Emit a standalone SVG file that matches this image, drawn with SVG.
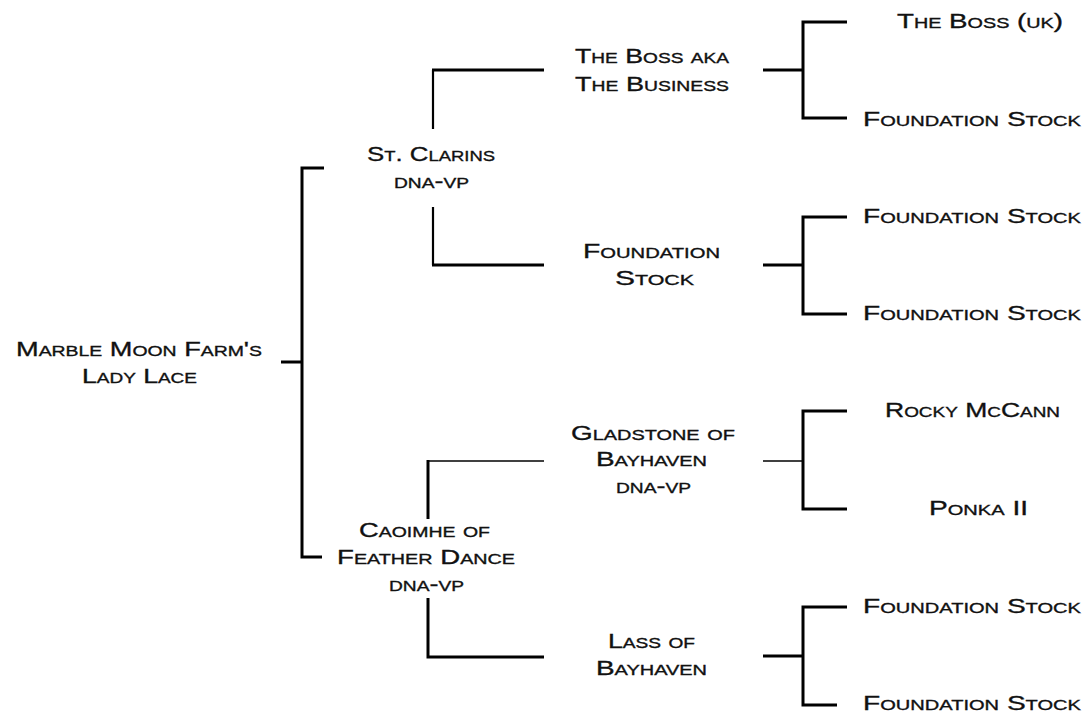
<svg xmlns="http://www.w3.org/2000/svg" width="1087" height="713" viewBox="0 0 1087 713">
<style>
text{font-family:"Liberation Sans",Arial,sans-serif;font-size:21px;font-variant:small-caps;fill:#111;stroke:#111;stroke-width:0.35;}
.c{fill:none;stroke:#000;stroke-linecap:butt;stroke-linejoin:miter;}
.k{stroke-width:3;}
.t{stroke-width:1.6;}
.m{stroke-width:2.2;}
</style>
<rect width="1087" height="713" fill="#fff"/>
<g id="connectors">
<path class="c k" d="M281 362H302M324 168H302V557H322"/>
<path class="c m" d="M433 129V70"/>
<path class="c k" d="M432 70H544"/>
<path class="c m" d="M433 207V265"/>
<path class="c k" d="M432 265H544"/>
<path class="c t" d="M428 461H544"/>
<path class="c k" d="M428 460V519"/>
<path class="c k" d="M428 598V657H544"/>
<path class="c k" d="M763 70H803M847 22H803V118H847"/>
<path class="c k" d="M763 265H803M847 217H803V314H847"/>
<path class="c t" d="M763 461H803"/>
<path class="c k" d="M847 411H803V509H847"/>
<path class="c k" d="M763 656H803M847 607H803V705H837"/>
</g>
<g id="root"><text x="16" y="356" textLength="246" lengthAdjust="spacingAndGlyphs">Marble Moon Farm's</text><text x="82" y="383" textLength="115" lengthAdjust="spacingAndGlyphs">Lady Lace</text></g>
<g id="sire"><text x="367" y="161" textLength="128" lengthAdjust="spacingAndGlyphs">St. Clarins</text><text x="394" y="188" textLength="75" lengthAdjust="spacingAndGlyphs">dna-vp</text></g>
<g id="dam"><text x="359" y="537" textLength="131" lengthAdjust="spacingAndGlyphs">Caoimhe of</text><text x="337" y="564" textLength="178" lengthAdjust="spacingAndGlyphs">Feather Dance</text><text x="389" y="591" textLength="75" lengthAdjust="spacingAndGlyphs">dna-vp</text></g>
<g id="ss"><text x="575" y="63" textLength="154" lengthAdjust="spacingAndGlyphs">The Boss aka</text><text x="575" y="91" textLength="154" lengthAdjust="spacingAndGlyphs">The Business</text></g>
<g id="sd"><text x="583" y="258" textLength="137" lengthAdjust="spacingAndGlyphs">Foundation</text><text x="615" y="285" textLength="79" lengthAdjust="spacingAndGlyphs">Stock</text></g>
<g id="ds"><text x="571" y="440" textLength="164" lengthAdjust="spacingAndGlyphs">Gladstone of</text><text x="596" y="466" textLength="111" lengthAdjust="spacingAndGlyphs">Bayhaven</text><text x="616" y="493" textLength="75" lengthAdjust="spacingAndGlyphs">dna-vp</text></g>
<g id="dd"><text x="608" y="648" textLength="87" lengthAdjust="spacingAndGlyphs">Lass of</text><text x="596" y="675" textLength="111" lengthAdjust="spacingAndGlyphs">Bayhaven</text></g>
<g id="sss"><text x="897" y="28" textLength="166" lengthAdjust="spacingAndGlyphs">The Boss (uk)</text></g>
<g id="ssd"><text x="863" y="126" textLength="218" lengthAdjust="spacingAndGlyphs">Foundation Stock</text></g>
<g id="sds"><text x="863" y="223" textLength="218" lengthAdjust="spacingAndGlyphs">Foundation Stock</text></g>
<g id="sdd"><text x="863" y="320" textLength="218" lengthAdjust="spacingAndGlyphs">Foundation Stock</text></g>
<g id="dss"><text x="885" y="417" textLength="175" lengthAdjust="spacingAndGlyphs">Rocky McCann</text></g>
<g id="dsd"><text x="929" y="515" textLength="99" lengthAdjust="spacingAndGlyphs">Ponka II</text></g>
<g id="dds"><text x="863" y="613" textLength="218" lengthAdjust="spacingAndGlyphs">Foundation Stock</text></g>
<g id="ddd"><text x="863" y="710" textLength="218" lengthAdjust="spacingAndGlyphs">Foundation Stock</text></g>
</svg>
